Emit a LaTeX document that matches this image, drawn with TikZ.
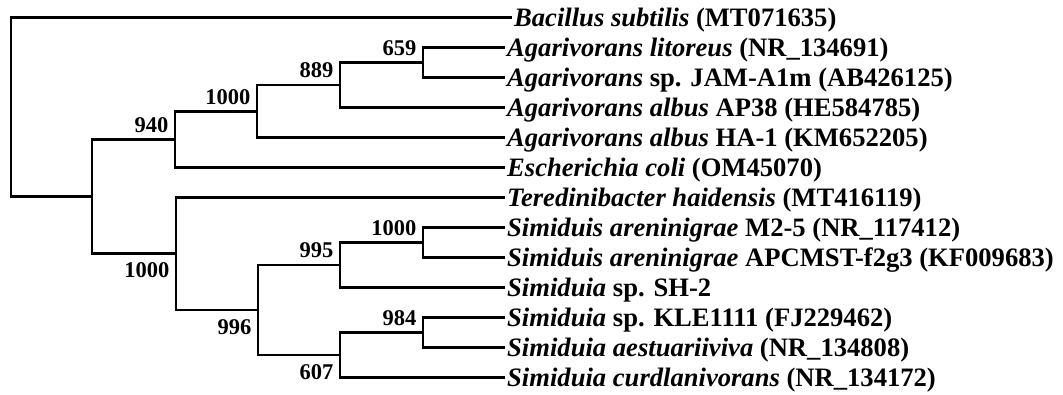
\documentclass[tikz,border=0pt]{standalone}
\usepackage{fontspec}
\setmainfont{Liberation Serif}
\begin{document}
\begin{tikzpicture}[x=1pt,y=-1pt,
  branch/.style={line width=2.6pt,line join=miter},
  leaf/.style={anchor=base west,inner sep=0pt,xshift=2pt,yshift=-9pt,font=\fontsize{26.6}{30}\selectfont\bfseries},
  bsup/.style={inner sep=0pt,font=\fontsize{22.5}{24}\selectfont\bfseries},
  above lab/.style={bsup,anchor=base east,xshift=-6.5pt,yshift=7pt},
  below lab/.style={bsup,anchor=north east,xshift=-6.5pt,yshift=-9pt}]
\useasboundingbox (0,0) rectangle (1063,395);
% internal nodes
\coordinate (root) at (11,107);
\coordinate (nA) at (92,196.6);
\coordinate (n940) at (175,139.4);
\coordinate (n1000a) at (257,111.25);
\coordinate (n889) at (340,85);
\coordinate (n659) at (423,62.5);
\coordinate (n1000b) at (176,253.75);
\coordinate (n996) at (258,310);
\coordinate (n995) at (340,265);
\coordinate (n1000s) at (423,242.5);
\coordinate (n607) at (340,355);
\coordinate (n984) at (423,332.5);
% leaf tips
\coordinate (tBs) at (512,17.5);
\coordinate (tAl) at (505,47.5);
\coordinate (tAj) at (505,77.5);
\coordinate (tAa) at (505,107.5);
\coordinate (tAh) at (505,137.5);
\coordinate (tEc) at (505,167.5);
\coordinate (tTh) at (505,197.5);
\coordinate (tSm) at (505,227.5);
\coordinate (tSa) at (505,257.5);
\coordinate (tSh) at (505,287.5);
\coordinate (tSk) at (505,317.5);
\coordinate (tSe) at (505,347.5);
\coordinate (tSc) at (505,377.5);
% leaf labels
\node[leaf] (Bs) at (tBs) {\textit{Bacillus subtilis} (MT071635)};
\node[leaf] (Al) at (tAl) {\textit{Agarivorans litoreus} (NR\_134691)};
\node[leaf] (Aj) at (tAj) {\textit{Agarivorans} sp. JAM-A1m (AB426125)};
\node[leaf] (Aa) at (tAa) {\textit{Agarivorans albus} AP38 (HE584785)};
\node[leaf] (Ah) at (tAh) {\textit{Agarivorans albus} HA-1 (KM652205)};
\node[leaf] (Ec) at (tEc) {\textit{Escherichia coli} (OM45070)};
\node[leaf] (Th) at (tTh) {\textit{Teredinibacter haidensis} (MT416119)};
\node[leaf] (Sm) at (tSm) {\textit{Simiduis areninigrae} M2-5 (NR\_117412)};
\node[leaf] (Sa) at (tSa) {\textit{Simiduis areninigrae} APCMST-f2g3 (KF009683)};
\node[leaf] (Sh) at (tSh) {\textit{Simiduia} sp. SH-2};
\node[leaf] (Sk) at (tSk) {\textit{Simiduia} sp. KLE1111 (FJ229462)};
\node[leaf] (Se) at (tSe) {\textit{Simiduia aestuariiviva} (NR\_134808)};
\node[leaf] (Sc) at (tSc) {\textit{Simiduia curdlanivorans} (NR\_134172)};
% branches
\draw[branch] (root) |- (tBs);
\draw[branch] (root) |- (nA);
\draw[branch] (nA) |- (n940);
\draw[branch] (nA) |- (n1000b);
\draw[branch] (n940) |- (n1000a);
\draw[branch] (n940) |- (tEc);
\draw[branch] (n1000a) |- (n889);
\draw[branch] (n1000a) |- (tAh);
\draw[branch] (n889) |- (n659);
\draw[branch] (n889) |- (tAa);
\draw[branch] (n659) |- (tAl);
\draw[branch] (n659) |- (tAj);
\draw[branch] (n1000b) |- (tTh);
\draw[branch] (n1000b) |- (n996);
\draw[branch] (n996) |- (n995);
\draw[branch] (n996) |- (n607);
\draw[branch] (n995) |- (n1000s);
\draw[branch] (n995) |- (tSh);
\draw[branch] (n1000s) |- (tSm);
\draw[branch] (n1000s) |- (tSa);
\draw[branch] (n607) |- (n984);
\draw[branch] (n607) |- (tSc);
\draw[branch] (n984) |- (tSk);
\draw[branch] (n984) |- (tSe);
% bootstrap values
\node[above lab] (b659) at (n659) {659};
\node[above lab] (b889) at (n889) {889};
\node[above lab] (b1000a) at (n1000a) {1000};
\node[above lab] (b940) at (n940) {940};
\node[below lab] (b1000b) at (n1000b) {1000};
\node[below lab] (b996) at (n996) {996};
\node[above lab] (b995) at (n995) {995};
\node[above lab] (b1000s) at (n1000s) {1000};
\node[below lab] (b607) at (n607) {607};
\node[above lab] (b984) at (n984) {984};
\end{tikzpicture}
\end{document}
